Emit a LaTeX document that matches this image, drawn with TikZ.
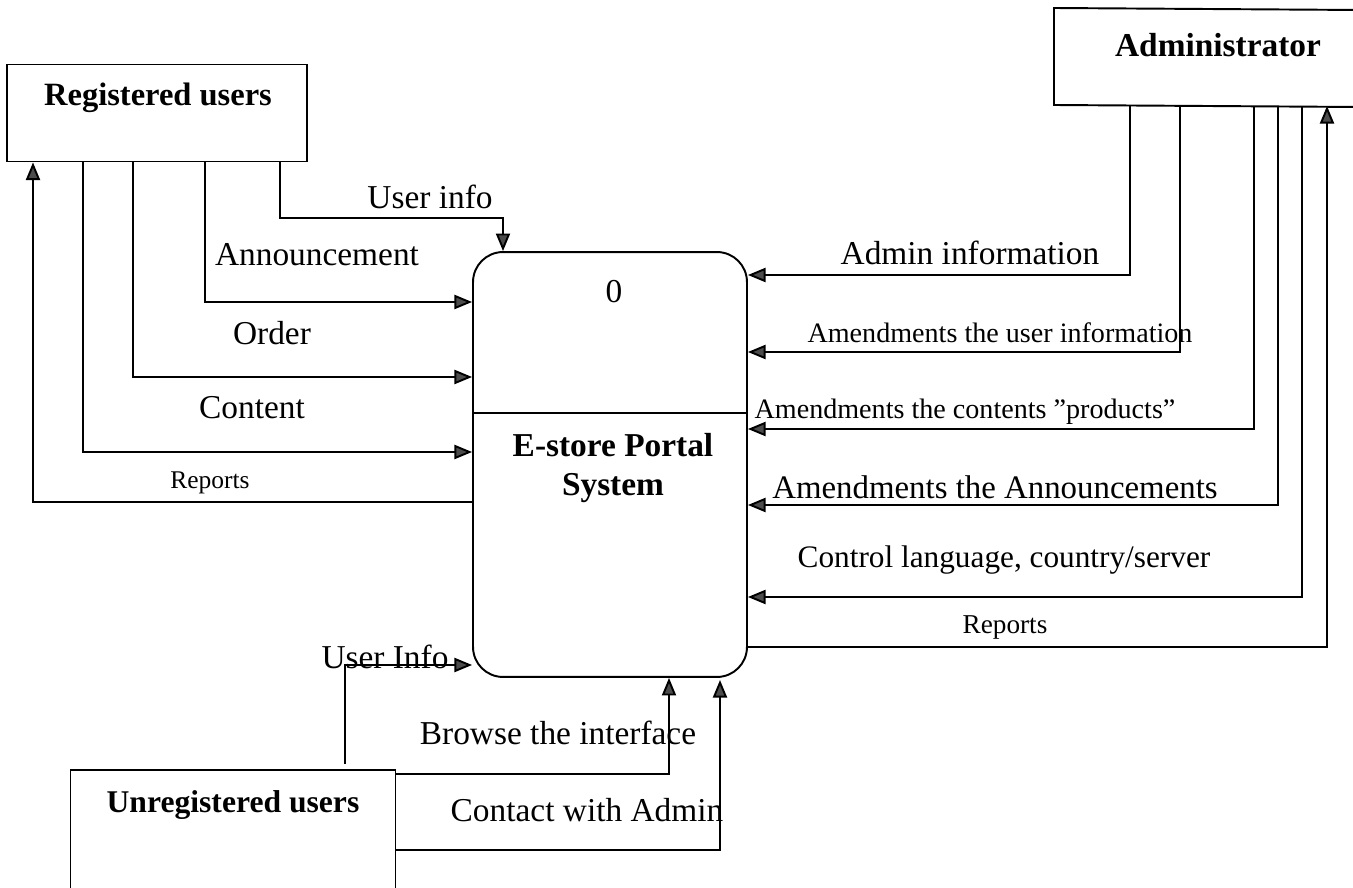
\documentclass[tikz,border=0pt]{standalone}
\usepackage{fontspec}
\setmainfont{Liberation Serif}
\usetikzlibrary{arrows.meta}

\tikzset{
  ent/.style={draw, line width=1.1pt, inner sep=0pt},
  proc/.style={draw, line width=1.1pt, rounded corners=0.6cm, inner sep=0pt,
    minimum width=5.48cm, minimum height=8.5cm},
  flow/.style={line width=1.1pt, -{Triangle[length=10pt,width=8pt,fill=black!70]}},
  bigl/.style={font=\fontsize{19}{20}\selectfont, inner sep=1pt},
  midl/.style={font=\fontsize{16}{17}\selectfont, inner sep=1pt},
  smal/.style={font=\fontsize{14.5}{15}\selectfont, inner sep=1pt},
  namel/.style={font=\bfseries\fontsize{19}{20}\selectfont, inner sep=1pt, align=center}
}

\begin{document}
\begin{tikzpicture}[x=0.02cm, y=-0.02cm]
\useasboundingbox (0,0) rectangle (1353,888);

% external entities
\node[ent, minimum width=6cm, minimum height=1.94cm] (reg) at (157,113) {};
\node[namel, font=\bfseries\fontsize{18.5}{20}\selectfont] (regt) at (158,98) {Registered users};
\node[ent, minimum width=6.5cm, minimum height=2.4cm] (unreg) at (233,830) {};
\node[namel, font=\bfseries\fontsize{18}{20}\selectfont] (unregt) at (233,805) {Unregistered users};
\draw[line width=1.1pt] (1360,10) -- (1054,8) -- (1054,105) -- (1360,107);
\coordinate (adm) at (1054,106);
\node[namel] (admt) at (1218,45) {Administrator};

% process
\node[proc] (sys) at (610,464.5) {};
\draw[line width=1.1pt] (sys.west |- 0,413) -- (sys.east |- 0,413);
\node[font=\fontsize{19}{20}\selectfont] (num) at (614,292) {0};
\node[namel, font=\bfseries\fontsize{19}{22.5}\selectfont] (name) at (613,468) {E-store Portal\\System};

% registered users
\draw[flow] (reg.south -| 280,0) |- (503,218) -- (sys.north -| 503,0);
\draw[flow] (reg.south -| 205,0) |- (sys.west |- 0,302);
\draw[flow] (reg.south -| 133,0) |- (sys.west |- 0,377);
\draw[flow] (reg.south -| 83,0) |- (sys.west |- 0,452);
\draw[flow] (sys.west |- 0,502) -| (reg.south -| 33,0);
\node[bigl] (l1) at (430,197) {User info};
\node[bigl] (l2) at (317,255) {Announcement};
\node[bigl] (l3) at (272,333) {Order};
\node[bigl] (l4) at (252,408) {Content};
\node[smal] (l5) at (210,483) {Reports};

% administrator
\draw[flow] (adm -| 1130,0) |- (sys.east |- 0,275);
\draw[flow] (adm -| 1180,0) |- (sys.east |- 0,352);
\draw[flow] (adm -| 1254,0) |- (sys.east |- 0,429);
\draw[flow] (adm -| 1278,0) |- (sys.east |- 0,505);
\draw[flow] (adm -| 1302,0) |- (sys.east |- 0,597);
\draw[flow] (sys.east |- 0,647) -| (adm -| 1327,0);
\node[bigl] (r1) at (970,253) {Admin information};
\node[midl] (r2) at (1000,333) {Amendments the user information};
\node[midl] (r3) at (965,412) {Amendments the contents ”products”};
\node[bigl, font=\fontsize{18.7}{19}\selectfont] (r4) at (995,487) {Amendments the Announcements};
\node[bigl, font=\fontsize{17.8}{18}\selectfont] (r5) at (1004,560) {Control language, country/server};
\node[smal, font=\fontsize{15.5}{16}\selectfont] (r6) at (1005,627) {Reports};

% unregistered users
\draw[flow] (unreg.north -| 345,0) ++(0,-5) |- (sys.west |- 0,665);
\draw[flow] (unreg.north east) ++(0,5) -| (sys.south -| 669,0);
\draw[flow] (unreg.east |- 0,850) -| (720,680);
\node[bigl] (u1) at (385,657) {User Info};
\node[bigl] (u2) at (558,733) {Browse the interface};
\node[bigl] (u3) at (587,810) {Contact with Admin};
\end{tikzpicture}
\end{document}
